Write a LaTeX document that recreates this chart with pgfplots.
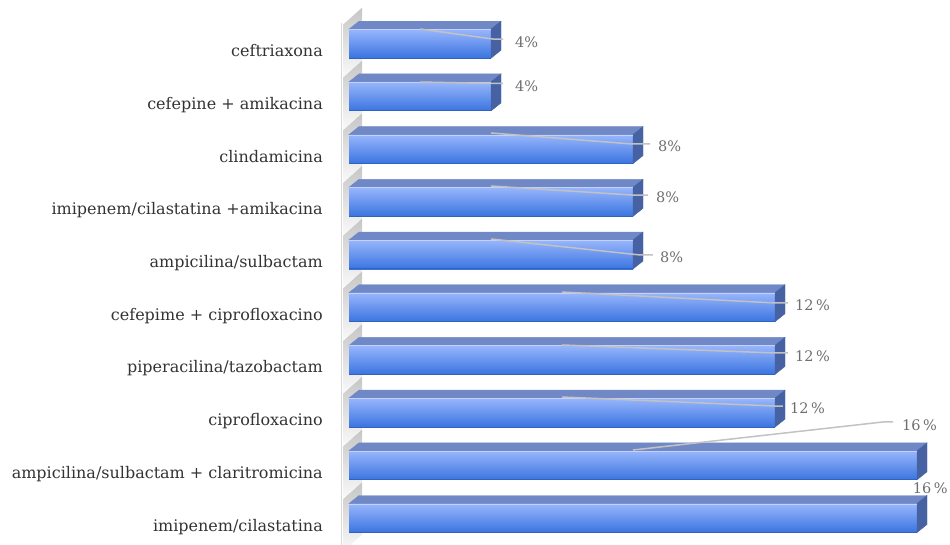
\documentclass[border=0pt]{standalone}
\usepackage{pgfplots}
\pgfplotsset{compat=1.18}
\usepackage{pgfplotstable}
\usepackage{fontspec}
\setmainfont{DejaVu Serif}
\definecolor{topface}{HTML}{7089C6}
\definecolor{sideface}{HTML}{4762A3}
\definecolor{frontT}{HTML}{98B6FC}
\definecolor{frontM}{HTML}{85A9F9}
\definecolor{frontB}{HTML}{3A74E0}
\definecolor{catcol}{HTML}{333333}
\definecolor{labcol}{HTML}{6E6E6E}
\definecolor{leadcol}{HTML}{C2C2C2}
\pgfdeclareplotmark{empty}{}

\pgfplotstableread{
y v
0 16
1 16
2 12
3 12
4 12
5 8
6 8
7 8
8 4
9 4
}\data

\begin{document}
\begin{tikzpicture}
\path[use as bounding box] (0,0) rectangle (950pt,544pt);
\begin{axis}[
  at={(349pt,26pt)}, anchor=origin,
  x=35.5pt, y=52.7pt,
  xmin=0, xmax=16.5, ymin=-0.8, ymax=9.8,
  clip=false,
  axis line style={draw=none},
  xtick=\empty,
  ytick={0,...,9},
  yticklabels={imipenem/cilastatina, ampicilina/sulbactam + claritromicina, ciprofloxacino, piperacilina/tazobactam, cefepime + ciprofloxacino, ampicilina/sulbactam, imipenem/cilastatina +amikacina, clindamicina, cefepine + amikacina, ceftriaxona},
  ytick style={draw=none},
  major tick length=0pt,
  yticklabel style={anchor=base east, inner sep=0pt, xshift=-26pt, yshift=-13pt,
    font=\fontsize{16}{19}\selectfont, text=catcol},
]
% back wall
\draw[gray!30, line width=1pt] ([xshift=-8pt]axis cs:0,9.4) -- ([xshift=-8pt]axis cs:0,-0.7);
\addplot[scatter, only marks, mark=empty,
  scatter/@pre marker code/.code={\scope
    \shade[top color=gray!45, bottom color=gray!4, draw=none]
      (-6pt,19pt) -- (13pt,36pt) -- (13pt,-16.7pt) -- (-6pt,-33.7pt) -- cycle;
  },
  scatter/@post marker code/.code={\endscope}]
  table[x expr=0, y=y] \data;
% 3D bars: front, top and side faces
\addplot[scatter, only marks, mark=empty,
  visualization depends on={\thisrow{v} \as \val},
  scatter/@pre marker code/.code={\scope
    \pgfmathsetmacro\L{-35.5*\val}
    \shade[top color=frontT, middle color=frontM, bottom color=frontB, draw=none]
      (\L pt,-14.5pt) rectangle (0pt,14.5pt);
    \fill[topface] (\L pt,14.5pt) -- (0pt,14.5pt) -- (10pt,22.5pt) -- (\L pt+10pt,22.5pt) -- cycle;
    \fill[sideface] (0pt,-14.5pt) -- (10pt,-6.5pt) -- (10pt,22.5pt) -- (0pt,14.5pt) -- cycle;
    \draw[frontT!60!white, line width=0.8pt] (\L pt,14.1pt) -- (0pt,14.1pt);
    \draw[frontB!85!black, line width=0.6pt] (\L pt,-14.2pt) -- (0pt,-14.2pt);
  },
  scatter/@post marker code/.code={\endscope}]
  table[x=v, y=y] \data;
% anchor points for leader lines and data labels
\coordinate (a1) at (axis cs:2,9.279);  \coordinate (b1) at (axis cs:4.056,9.089);  \coordinate (c1) at (axis cs:4.338,9.089);  \coordinate (t1) at (axis cs:4.676,9.032);
\coordinate (a2) at (axis cs:2,8.273);  \coordinate (b2) at (axis cs:4.056,8.245);  \coordinate (c2) at (axis cs:4.338,8.245);  \coordinate (t2) at (axis cs:4.676,8.197);
\coordinate (a3) at (axis cs:4,7.306);  \coordinate (b3) at (axis cs:7.972,7.097);  \coordinate (c3) at (axis cs:8.479,7.097);  \coordinate (t3) at (axis cs:8.704,7.059);
\coordinate (a4) at (axis cs:4,6.300);  \coordinate (b4) at (axis cs:7.972,6.129);  \coordinate (c4) at (axis cs:8.423,6.129);  \coordinate (t4) at (axis cs:8.648,6.091);
\coordinate (a5) at (axis cs:4,5.294);  \coordinate (b5) at (axis cs:8.197,4.991);  \coordinate (c5) at (axis cs:8.563,4.991);  \coordinate (t5) at (axis cs:8.761,4.953);
\coordinate (a6) at (axis cs:6,4.288);  \coordinate (b6) at (axis cs:12.028,4.080); \coordinate (c6) at (axis cs:12.366,4.080); \coordinate (t6) at (axis cs:12.563,4.042);
\coordinate (a7) at (axis cs:6,3.283);  \coordinate (b7) at (axis cs:12.028,3.131); \coordinate (c7) at (axis cs:12.366,3.131); \coordinate (t7) at (axis cs:12.563,3.074);
\coordinate (a8) at (axis cs:6,2.296);  \coordinate (b8) at (axis cs:12.0,2.125);   \coordinate (c8) at (axis cs:12.225,2.125); \coordinate (t8) at (axis cs:12.423,2.087);
\coordinate (a9) at (axis cs:8,1.290);  \coordinate (b9) at (axis cs:15.042,1.822); \coordinate (c9) at (axis cs:15.324,1.822); \coordinate (t9) at (axis cs:15.577,1.765);
\coordinate (t10) at (axis cs:15.88,0.569);
\end{axis}
% leader lines
\begin{scope}[leadcol, line width=1.5pt]
\foreach \i in {1,...,9} {\draw (a\i) -- (b\i) -- (c\i);}
\end{scope}
% data labels
\begin{scope}[every node/.style={anchor=west, inner sep=0pt, text=labcol, font=\fontsize{14.5}{16}\selectfont}]
\node at (t1) {4\%};
\node at (t2) {4\%};
\node at (t3) {8\%};
\node at (t4) {8\%};
\node at (t5) {8\%};
\node at (t6) {12\,\%};
\node at (t7) {12\,\%};
\node at (t8) {12\,\%};
\node at (t9) {16\,\%};
\node at (t10) {16\,\%};
\end{scope}
\end{tikzpicture}
\end{document}
